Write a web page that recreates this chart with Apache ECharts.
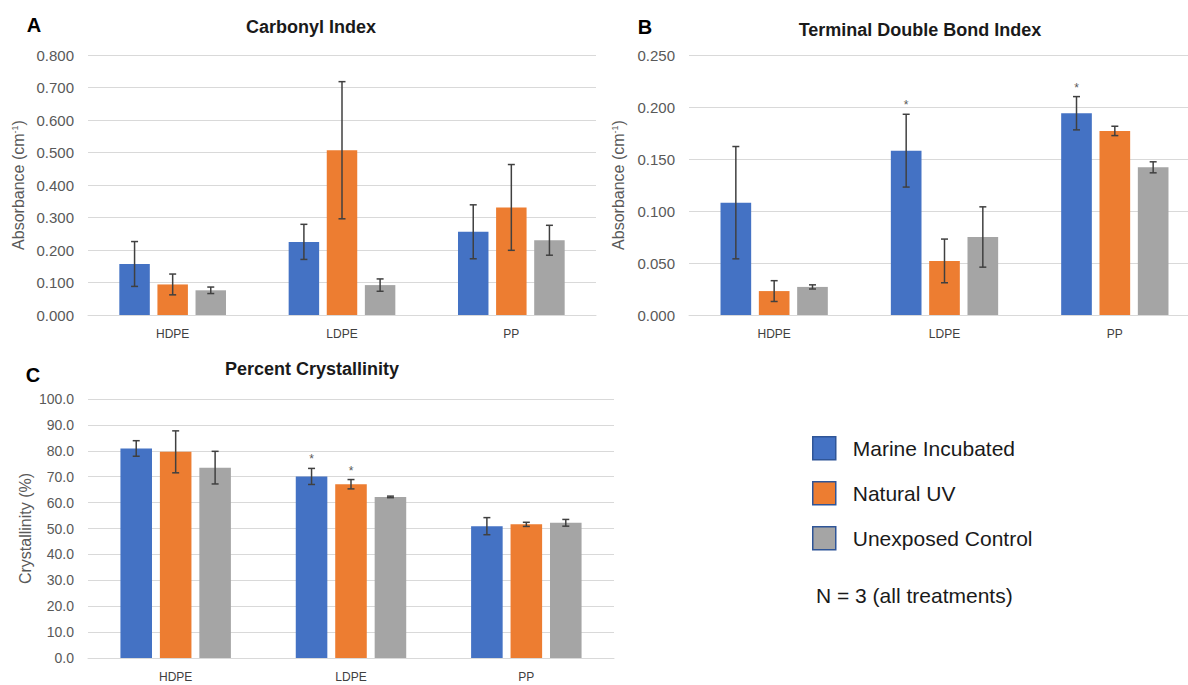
<!DOCTYPE html>
<html>
<head>
<meta charset="utf-8">
<script src="https://cdn.jsdelivr.net/npm/echarts@6/dist/echarts.min.js"></script>
<style>
html,body{margin:0;padding:0;background:#fff;}
#chart{width:1188px;height:685px;}
</style>
</head>
<body>
<div id="chart"></div>
<script>
// ---- data ----
const categories = ['HDPE', 'LDPE', 'PP'];
const treatments = ['Marine Incubated', 'Natural UV', 'Unexposed Control'];

// A: Carbonyl Index (absorbance, cm-1)
const carbonylMarine = [0.157, 0.225, 0.256];
const carbonylMarineErr = [0.069, 0.054, 0.083];
const carbonylNatural = [0.094, 0.507, 0.331];
const carbonylNaturalErr = [0.032, 0.211, 0.132];
const carbonylControl = [0.076, 0.092, 0.230];
const carbonylControlErr = [0.010, 0.019, 0.046];

// B: Terminal Double Bond Index
const tdbMarine = [0.108, 0.158, 0.194];
const tdbMarineErr = [0.054, 0.035, 0.016];
const tdbNatural = [0.023, 0.052, 0.177];
const tdbNaturalErr = [0.010, 0.021, 0.0045];
const tdbControl = [0.027, 0.075, 0.142];
const tdbControlErr = [0.002, 0.029, 0.0053];

// C: Percent Crystallinity
const crystMarine = [80.9, 70.1, 50.9];
const crystMarineErr = [3.0, 3.1, 3.3];
const crystNatural = [79.6, 67.1, 51.6];
const crystNaturalErr = [8.1, 1.8, 0.8];
const crystControl = [73.5, 62.2, 52.2];
const crystControlErr = [6.3, 0.3, 1.3];

// significance markers (*) per treatment
const sigA = [[0, 0, 0], [0, 0, 0], [0, 0, 0]];
const sigB = [[0, 1, 1], [0, 0, 0], [0, 0, 0]];
const sigC = [[0, 1, 0], [0, 1, 0], [0, 0, 0]];

// axis ticks
const yTicksA = {min: 0, max: 0.8, interval: 0.1, digits: 3};
const yTicksB = {min: 0, max: 0.25, interval: 0.05, digits: 3};
const yTicksC = {min: 0, max: 100, interval: 10, digits: 1};

// ---- build ----
const FONT = '"Liberation Sans", Arial, sans-serif';
const COLORS = ['#4472C4', '#ED7D31', '#A5A5A5'];
const BAR_W = 0.18, BAR_GAP = 0.25;

const panels = [
  {means: [carbonylMarine, carbonylNatural, carbonylControl],
   errs: [carbonylMarineErr, carbonylNaturalErr, carbonylControlErr], sig: sigA, ticks: yTicksA,
   grid: {left: 88, right: 592, top: 55, bottom: 370}, labelSize: 15,
   name: 'Absorbance (cm{sup|-1})', nameGap: 62},
  {means: [tdbMarine, tdbNatural, tdbControl],
   errs: [tdbMarineErr, tdbNaturalErr, tdbControlErr], sig: sigB, ticks: yTicksB,
   grid: {left: 689, right: -12, top: 55, bottom: 370}, labelSize: 15,
   name: 'Absorbance (cm{sup|-1})', nameGap: 63},
  {means: [crystMarine, crystNatural, crystControl],
   errs: [crystMarineErr, crystNaturalErr, crystControlErr], sig: sigC, ticks: yTicksC,
   grid: {left: 88, right: 574, top: 399, bottom: 27}, labelSize: 14,
   name: 'Crystallinity (%)', nameGap: 55}
];

function errRenderer(k) {
  return function (params, api) {
    const idx = api.value(0), m = api.value(1), e = api.value(2), s = api.value(3);
    const band = api.size([1, 0])[0];
    const bw = band * BAR_W;
    const off = (k - 1) * bw * (1 + BAR_GAP);
    const top = api.coord([idx, m + e]);
    const bot = api.coord([idx, m - e]);
    const x = top[0] + off;
    const cap = 3.5;
    const st = {stroke: '#404040', lineWidth: 1.5};
    const children = [
      {type: 'line', shape: {x1: x, y1: top[1], x2: x, y2: bot[1]}, style: st},
      {type: 'line', shape: {x1: x - cap, y1: top[1], x2: x + cap, y2: top[1]}, style: st},
      {type: 'line', shape: {x1: x - cap, y1: bot[1], x2: x + cap, y2: bot[1]}, style: st}
    ];
    if (s) {
      children.push({type: 'text', style: {text: '*', x: x, y: top[1] - 9,
        fill: '#595959', fontSize: 12, fontFamily: FONT, align: 'center', verticalAlign: 'middle'}});
    }
    return {type: 'group', children: children};
  };
}

const grids = [], xAxes = [], yAxes = [], series = [];
panels.forEach(function (p, pi) {
  grids.push(Object.assign({containLabel: false, outerBoundsMode: 'none'}, p.grid));
  xAxes.push({
    type: 'category', gridIndex: pi, data: categories,
    axisLine: {lineStyle: {color: '#D9D9D9', width: 1}},
    axisTick: {show: false},
    axisLabel: {color: '#404040', fontSize: 12, fontFamily: FONT, margin: 13}
  });
  yAxes.push({
    type: 'value', gridIndex: pi, min: p.ticks.min, max: p.ticks.max, interval: p.ticks.interval,
    axisLine: {show: false}, axisTick: {show: false},
    splitLine: {lineStyle: {color: '#D9D9D9', width: 1}},
    axisLabel: {color: '#595959', fontSize: p.labelSize, fontFamily: FONT, margin: 14,
      formatter: function (v) { return v.toFixed(p.ticks.digits); }},
    name: p.name, nameLocation: 'middle', nameRotate: 90, nameGap: p.nameGap,
    nameTextStyle: {color: '#595959', fontSize: 16, fontFamily: FONT,
      rich: {sup: {fontSize: 9, color: '#595959', fontFamily: FONT, padding: [0, 0, 7, 0]}}}
  });
  for (let k = 0; k < 3; k++) {
    series.push({
      type: 'bar', name: treatments[k], xAxisIndex: pi, yAxisIndex: pi,
      data: p.means[k], barWidth: (BAR_W * 100) + '%', barGap: (BAR_GAP * 100) + '%',
      itemStyle: {color: COLORS[k]}, z: 2
    });
  }
  for (let k = 0; k < 3; k++) {
    series.push({
      type: 'custom', name: 'err' + pi + '_' + k, xAxisIndex: pi, yAxisIndex: pi,
      renderItem: errRenderer(k), z: 5, silent: true,
      encode: {x: 0, y: 1},
      data: categories.map(function (c, i) { return [i, p.means[k][i], p.errs[k][i], p.sig[k][i]]; })
    });
  }
});

function txt(text, x, y, size, bold, color, align) {
  return {type: 'text', x: x, y: y, silent: true,
    style: {text: text, fontSize: size, fontWeight: bold ? 'bold' : 'normal', fontFamily: FONT,
      fill: color, align: align || 'center', verticalAlign: 'middle'}};
}

const option = {
  animation: false,
  backgroundColor: '#ffffff',
  grid: grids, xAxis: xAxes, yAxis: yAxes, series: series,
  legend: {
    data: treatments, orient: 'vertical', left: 807, top: 431,
    itemWidth: 23, itemHeight: 23, itemGap: 20.5, icon: 'rect',
    itemStyle: {borderColor: '#2F5597', borderWidth: 1.5},
    textStyle: {fontSize: 21, color: '#1a1a1a', fontFamily: FONT, padding: [0, 0, 0, 12]},
    selectedMode: false
  },
  graphic: [
    txt('A', 34, 25, 20, true, '#000'),
    txt('B', 645, 27, 20, true, '#000'),
    txt('C', 33, 375, 20, true, '#000'),
    txt('Carbonyl Index', 311, 27, 18, true, '#1a1a1a'),
    txt('Terminal Double Bond Index', 920, 30, 18, true, '#1a1a1a'),
    txt('Percent Crystallinity', 312, 369, 18, true, '#1a1a1a'),
    txt('N = 3 (all treatments)', 816, 595, 21, false, '#1a1a1a', 'left')
  ]
};

const chart = echarts.init(document.getElementById('chart'), null, {renderer: 'svg'});
chart.setOption(option);
</script>
</body>
</html>
